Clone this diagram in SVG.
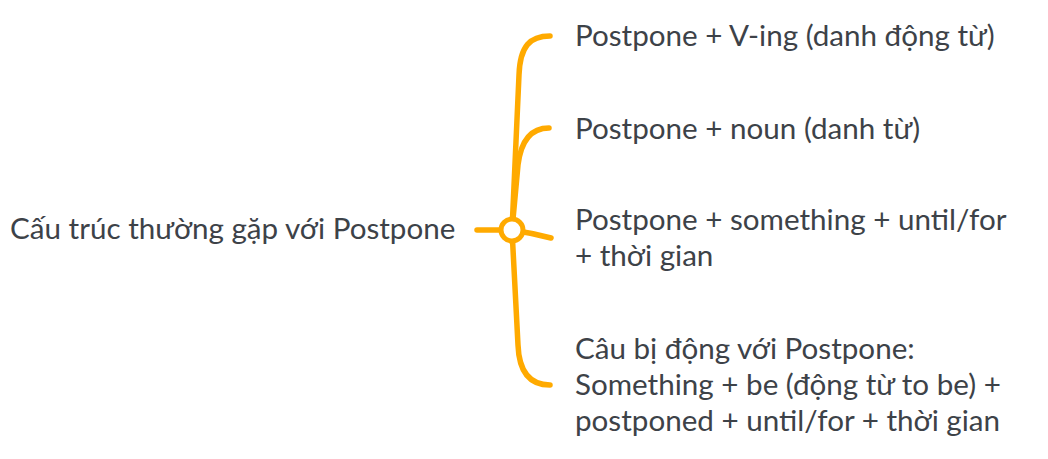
<svg xmlns="http://www.w3.org/2000/svg" width="1048" height="459" viewBox="0 0 1048 459">
<style>
.t{font-family:"Lato","Noto Sans",sans-serif;font-size:29.6px;fill:#3d4248}
.c{fill:none;stroke:#FFAA00;stroke-width:5.5;stroke-linecap:round;stroke-linejoin:round}
</style>
<rect width="1048" height="459" fill="#ffffff"/>
<g id="connectors">
<path class="c" d="M477,230 L512,230"/>
<path class="c" d="M512,230 L519,75 C520,46 530,36 550,36"/>
<path class="c" d="M512,230 L518,165 C521,140 532,128 549,128"/>
<path class="c" d="M512,230 Q532,233 551,238"/>
<path class="c" d="M512,230 L518,345 C519,372 530,385 550,385"/>
</g>
<g id="root">
<circle cx="512" cy="230" r="11" fill="#ffffff" stroke="#FFAA00" stroke-width="5"/>
<text class="t" x="10" y="239">Cấu trúc thường gặp với Postpone</text>
</g>
<g id="n1"><text class="t" x="575" y="46">Postpone + V-ing (danh động từ)</text></g>
<g id="n2"><text class="t" x="575" y="139">Postpone + noun (danh từ)</text></g>
<g id="n3"><text class="t" x="575" y="230">Postpone + something + until/for</text><text class="t" x="575" y="266">+ thời gian</text></g>
<g id="n4"><text class="t" x="575" y="359">Câu bị động với Postpone:</text><text class="t" x="575" y="395">Something + be (động từ to be) +</text><text class="t" x="575" y="431">postponed + until/for + thời gian</text></g>
</svg>
